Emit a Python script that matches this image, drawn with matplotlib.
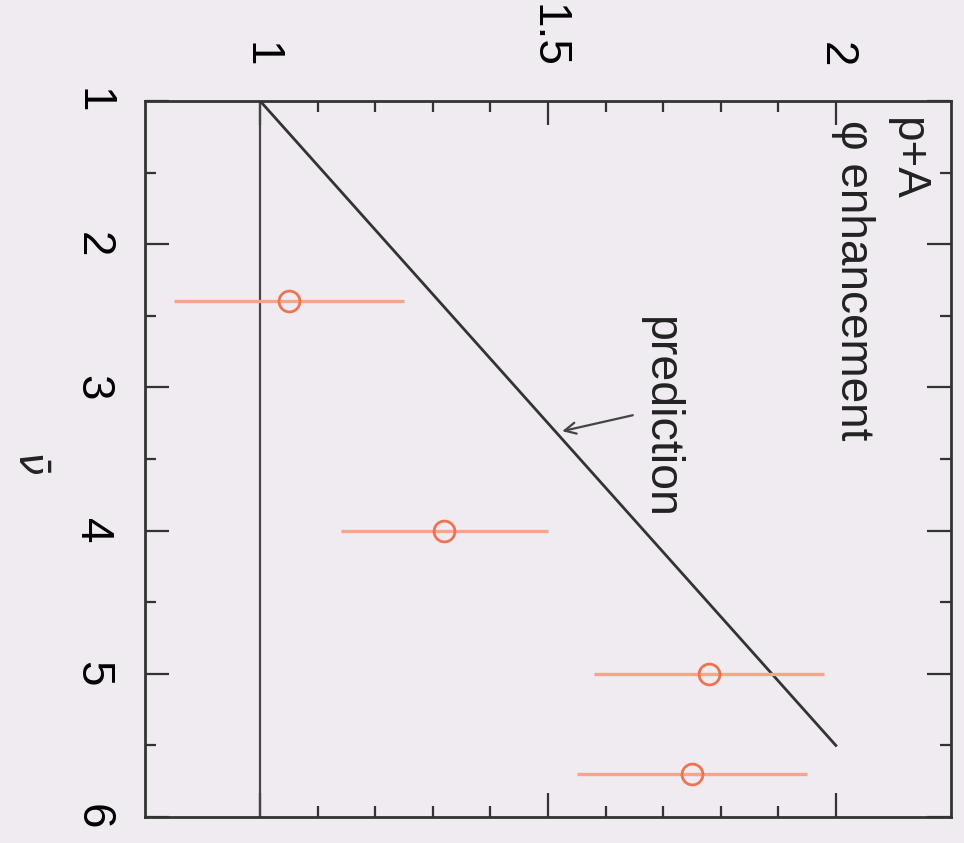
import matplotlib
matplotlib.use('Agg')
import matplotlib.pyplot as plt
from matplotlib.ticker import FixedLocator

plt.rcParams['font.family'] = ['Liberation Sans', 'DejaVu Sans']
plt.rcParams['mathtext.fontset'] = 'dejavusans'

# data (nu-bar vs phi enhancement)
nu_bar = [2.4, 4.0, 5.0, 5.7]
enhancement = [1.05, 1.32, 1.78, 1.75]
enh_err = [0.20, 0.18, 0.20, 0.20]

pred_nu = [1.0, 5.5]
pred_val = [1.0, 2.0]

ref_nu = [1.0, 6.0]
ref_val = [1.0, 1.0]

bg = '#efebf1'
fig = plt.figure(figsize=(9.64, 8.43), dpi=100)
fig.patch.set_facecolor(bg)
ax = fig.add_axes([0.1504, 0.0308, 0.8361, 0.8494])
ax.set_facecolor(bg)

# plot is drawn rotated: value on the horizontal axis, nu-bar going down
ax.plot(ref_val, ref_nu, color='#444444', lw=1.6, zorder=2)
ax.plot(pred_val, pred_nu, color='#333333', lw=2.0, zorder=2)
ax.errorbar(enhancement, nu_bar, xerr=enh_err, fmt='o', ms=15,
            mfc='none', mec='#ee7352', mew=2.0,
            ecolor='#f5a58a', elinewidth=2.4, capsize=0, zorder=3)

ax.set_xlim(0.8, 2.2)
ax.set_ylim(6, 1)

ax.xaxis.set_major_locator(FixedLocator([1, 1.5, 2]))
ax.xaxis.set_minor_locator(FixedLocator([1.1, 1.2, 1.3, 1.4, 1.6, 1.7, 1.8, 1.9]))
ax.yaxis.set_major_locator(FixedLocator([1, 2, 3, 4, 5, 6]))
ax.yaxis.set_minor_locator(FixedLocator([1.5, 2.5, 3.5, 4.5, 5.5]))

ax.tick_params(which='both', direction='in', top=True, bottom=True,
               left=True, right=True, labeltop=True, labelbottom=False,
               color='#333333', width=1.6)
ax.tick_params(which='major', length=17)
ax.tick_params(which='minor', length=8)
ax.tick_params(axis='x', which='major', pad=24, labelsize=33)
ax.tick_params(axis='y', which='major', pad=22, labelsize=33)

ax.set_xticklabels(['1', '1.5', '2'], rotation=-90)
ax.set_yticklabels(['1', '2', '3', '4', '5', '6'], rotation=-90, va='center')

for s in ax.spines.values():
    s.set_color('#333333')
    s.set_linewidth(2)

fig.text(0.030, 0.452, r'$\bar{\nu}$', fontsize=30, rotation=-90,
         ha='center', va='center', color='#222222')

ax.text(2.124, 1.11, 'p+A', fontsize=33, rotation=-90,
        ha='center', va='top', color='#222222')
ax.text(2.03, 1.13, 'φ enhancement', fontsize=33, rotation=-90,
        ha='center', va='top', color='#222222')

ax.text(1.695, 2.5, 'prediction', fontsize=33.5, rotation=-90,
        ha='center', va='top', color='#222222')
ax.annotate('', xy=(1.52, 3.31), xytext=(1.652, 3.19),
            arrowprops=dict(arrowstyle='->', color='#444444', lw=1.6,
                            mutation_scale=20))

fig.savefig('out.png', dpi=100, facecolor=bg)
